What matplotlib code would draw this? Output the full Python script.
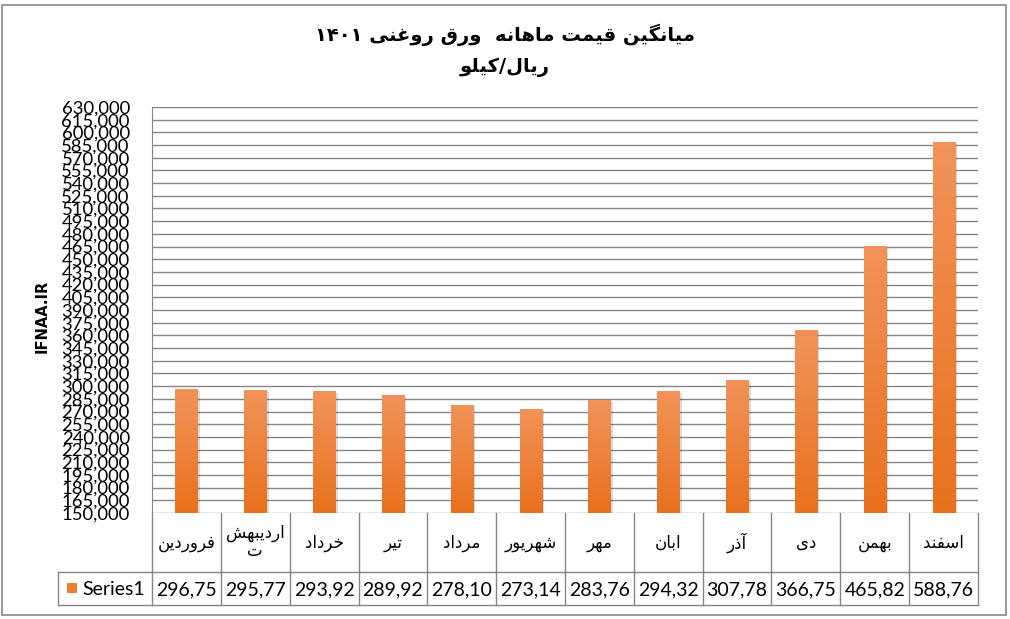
import re
import numpy as np
import matplotlib
matplotlib.use('Agg')
import matplotlib.pyplot as plt
import matplotlib.transforms as mtransforms
from matplotlib.patches import Rectangle
from matplotlib.colors import LinearSegmentedColormap
from matplotlib.ticker import FuncFormatter, MultipleLocator

# chart data
months = ['فروردین', 'اردیبهشت', 'خرداد', 'تیر', 'مرداد', 'شهریور',
          'مهر', 'ابان', 'آذر', 'دی', 'بهمن', 'اسفند']
prices = [296750, 295770, 293920, 289920, 278100, 273140,
          283760, 294320, 307780, 366750, 465820, 588760]
series_name = 'Series1'
title_line1 = 'میانگین قیمت ماهانه  ورق روغنی ۱۴۰۱'
title_line2 = 'ریال/کیلو'
y_label = 'IFNAA.IR'
y_min, y_max, y_step = 150000, 630000, 15000

W, H = 1010, 619
GRID = '#868686'
LATIN = 'Lato'
ARABIC = 'DejaVu Sans'

# minimal Persian shaping (presentation forms) + visual RTL order
FORMS = {
    'ا': ('\uFE8D', '\uFE8E', None, None),
    'آ': ('\uFE81', '\uFE82', None, None),
    'ب': ('\uFE8F', '\uFE90', '\uFE91', '\uFE92'),
    'ت': ('\uFE95', '\uFE96', '\uFE97', '\uFE98'),
    'خ': ('\uFEA5', '\uFEA6', '\uFEA7', '\uFEA8'),
    'د': ('\uFEA9', '\uFEAA', None, None),
    'ذ': ('\uFEAB', '\uFEAC', None, None),
    'ر': ('\uFEAD', '\uFEAE', None, None),
    'ز': ('\uFEAF', '\uFEB0', None, None),
    'س': ('\uFEB1', '\uFEB2', '\uFEB3', '\uFEB4'),
    'ش': ('\uFEB5', '\uFEB6', '\uFEB7', '\uFEB8'),
    'غ': ('\uFECD', '\uFECE', '\uFECF', '\uFED0'),
    'ف': ('\uFED1', '\uFED2', '\uFED3', '\uFED4'),
    'ق': ('\uFED5', '\uFED6', '\uFED7', '\uFED8'),
    'ک': ('\uFB8E', '\uFB8F', '\uFB90', '\uFB91'),
    'گ': ('\uFB92', '\uFB93', '\uFB94', '\uFB95'),
    'ل': ('\uFEDD', '\uFEDE', '\uFEDF', '\uFEE0'),
    'م': ('\uFEE1', '\uFEE2', '\uFEE3', '\uFEE4'),
    'ن': ('\uFEE5', '\uFEE6', '\uFEE7', '\uFEE8'),
    'ه': ('\uFEE9', '\uFEEA', '\uFEEB', '\uFEEC'),
    'و': ('\uFEED', '\uFEEE', None, None),
    'ی': ('\uFBFC', '\uFBFD', '\uFBFE', '\uFBFF'),
}


def shape_line(text):
    out = []
    for i, ch in enumerate(text):
        f = FORMS.get(ch)
        if f is None:
            out.append(ch)
            continue
        prev = text[i - 1] if i > 0 else ''
        nxt = text[i + 1] if i + 1 < len(text) else ''
        jp = prev in FORMS and FORMS[prev][2] is not None
        jn = f[2] is not None and nxt in FORMS
        if jp and jn:
            out.append(f[3])
        elif jp:
            out.append(f[1])
        elif jn:
            out.append(f[2])
        else:
            out.append(f[0])
    runs = re.findall(r'[0-9\u06F0-\u06F9]+|[^0-9\u06F0-\u06F9]', ''.join(out))
    return ''.join(reversed(runs))


def fa(text):
    return '\n'.join(shape_line(t) for t in text.split('\n'))


def wrap(text, n=7):
    # Excel wraps the long month name inside its cell
    return text if len(text) <= n else text[:n] + '\n' + text[n:]


fig = plt.figure(figsize=(W / 100, H / 100), dpi=100)
fig.patch.set_facecolor('white')

ax = fig.add_axes([152 / W, (H - 513) / H, 826 / W, 406 / H])
ov = fig.add_axes([0, 0, 1, 1], zorder=5)
ov.set_xlim(0, W)
ov.set_ylim(H, 0)
ov.axis('off')
ov.patch.set_visible(False)

x = np.arange(len(months))
bar_w = 0.32
cmap = LinearSegmentedColormap.from_list('bar', ['#E8711D', '#F1935A'])
grad = np.linspace(0, 1, 256).reshape(-1, 1)
shadow_tr = mtransforms.offset_copy(ax.transData, fig, x=2.5, y=-2, units='dots')

for xi, v in zip(x, prices):
    for k, a in enumerate([0.10, 0.14]):
        ax.add_patch(Rectangle((xi - bar_w / 2, y_min), bar_w, v - y_min,
                               transform=mtransforms.offset_copy(ax.transData, fig, x=1 + k * 1.5,
                                                                 y=-1 - k, units='dots'),
                               facecolor='black', alpha=a, lw=0, zorder=2))
    rect = Rectangle((xi - bar_w / 2, y_min), bar_w, v - y_min, facecolor='none', lw=0, zorder=3)
    ax.add_patch(rect)
    im = ax.imshow(grad, cmap=cmap, origin='lower', aspect='auto', zorder=3,
                   extent=[xi - bar_w / 2, xi + bar_w / 2, y_min, v])
    im.set_clip_path(rect)

ax.set_xlim(-0.5, len(months) - 0.5)
ax.set_ylim(y_min, y_max)
ax.yaxis.set_major_locator(MultipleLocator(y_step))
ax.yaxis.set_major_formatter(FuncFormatter(lambda v, p: f'{v:,.0f}'))
ax.set_xticks([])
ax.grid(axis='y', color=GRID, lw=1, zorder=1)
ax.set_axisbelow(True)
for s in ['top', 'right', 'bottom']:
    ax.spines[s].set_visible(False)
ax.spines['left'].set_color(GRID)
ax.tick_params(axis='y', length=0, pad=16, labelsize=13.3)
for lab in ax.get_yticklabels():
    lab.set_fontfamily(LATIN)
ax.set_facecolor('white')

# titles
fig.text(505 / W, 1 - 35 / H, fa(title_line1), ha='center', va='center',
         fontsize=14, fontweight='bold', family=ARABIC)
fig.text(505 / W, 1 - 67 / H, fa(title_line2), ha='center', va='center',
         fontsize=14, fontweight='bold', family=ARABIC)
fig.text(42 / W, 1 - 316 / H, y_label, rotation=90, ha='center', va='center',
         fontsize=10.5, fontweight='bold', family='DejaVu Sans')

# data table under the plot
bt = mtransforms.blended_transform_factory(ax.transData, ov.transData)
row_top, row_mid, row_bot = 513, 572, 605
for b in np.arange(len(months) + 1) - 0.5:
    ov.plot([b, b], [row_top, row_bot], color=GRID, lw=1, transform=bt)
for yy in [row_mid, row_bot]:
    ov.plot([-0.5, len(months) - 0.5], [yy, yy], color=GRID, lw=1, transform=bt)
ov.plot([58, 152], [row_mid, row_mid], color=GRID, lw=1)
ov.plot([58, 152], [row_bot, row_bot], color=GRID, lw=1)
ov.plot([58, 58], [row_mid, row_bot], color=GRID, lw=1)

for xi, m, v in zip(x, months, prices):
    ov.text(xi, (row_top + row_mid) / 2, fa(wrap(m)), ha='center', va='center',
            fontsize=12, family=ARABIC, transform=bt, linespacing=1.0)
    ov.text(xi, (row_mid + row_bot) / 2 + 1, f'{v / 1000:.2f}'.replace('.', ','),
            ha='center', va='center', fontsize=14, family=LATIN, transform=bt)

ov.add_patch(Rectangle((67, 583), 10, 10, facecolor='#EE7E32', lw=0))
ov.text(82, (row_mid + row_bot) / 2 + 1, series_name, ha='left', va='center',
        fontsize=14, family=LATIN)

# chart border
ov.add_patch(Rectangle((2, 5), 1004, 610, facecolor='none', edgecolor=GRID, lw=1.2))

fig.savefig('out.png', dpi=100)
